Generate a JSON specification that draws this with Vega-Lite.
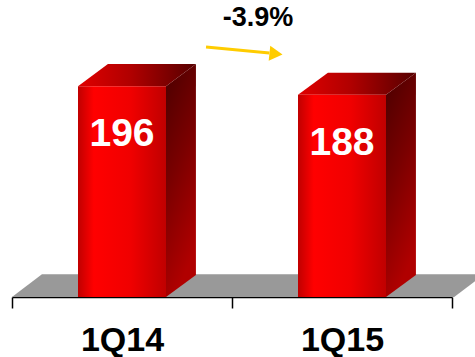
{
  "$schema": "https://vega.github.io/schema/vega-lite/v6.json",
  "autosize": "none",
  "width": 440,
  "height": 297,
  "padding": {"left": 12, "top": 0, "right": 23, "bottom": 60},
  "background": "white",
  "config": {"view": {"stroke": null}, "font": "Liberation Sans"},
  "data": {"values": [
    {"quarter": "1Q14", "value": 196},
    {"quarter": "1Q15", "value": 188}
  ]},
  "resolve": {"scale": {"x": "independent"}},
  "layer": [
    {
      "mark": {"type": "point", "opacity": 0},
      "encoding": {
        "x": {
          "field": "quarter", "type": "nominal", "sort": null,
          "scale": {"paddingInner": 0, "paddingOuter": 0},
          "axis": {
            "title": null, "orient": "bottom", "labelAngle": 0,
            "domain": true, "domainColor": "#000000", "domainWidth": 1.5,
            "ticks": true, "tickBand": "extent", "tickColor": "#000000", "tickSize": 11, "tickWidth": 1.5,
            "labelFont": "Liberation Sans", "labelFontSize": 34, "labelFontWeight": "bold",
            "labelColor": "#000000", "labelPadding": 15, "grid": false
          }
        }
      }
    },
    {
      "transform": [
        {"window": [{"op": "row_number", "as": "rn"}]},
        {"calculate": "datum.rn - 1 + 0.3", "as": "x0"},
        {"calculate": "datum.x0 + 0.4", "as": "x1"},
        {"calculate": "[0, 1]", "as": "pts"},
        {"flatten": ["pts"]},
        {"calculate": "datum.x0 + datum.pts * 0.136", "as": "tx0"},
        {"calculate": "datum.x1 + datum.pts * 0.136", "as": "tx1"},
        {"calculate": "datum.value + datum.pts * 20.5", "as": "ty"},
        {"calculate": "datum.pts * 20.5", "as": "sy0"},
        {"calculate": "datum.value + datum.pts * 20.5", "as": "sy1"},
        {"calculate": "0", "as": "zero"},
        {"calculate": "datum.x0 + 0.2", "as": "xc"}
      ],
      "layer": [
        {
          "transform": [
            {"filter": "datum.rn == 1"},
            {"calculate": "datum.pts * 0.136", "as": "fx0"},
            {"calculate": "2.01 + datum.pts * 0.136", "as": "fx1"},
            {"calculate": "datum.pts * 21.2", "as": "fy"}
          ],
          "mark": {"type": "area", "orient": "horizontal", "color": "#999999"},
          "encoding": {
            "y": {"field": "fy", "type": "quantitative", "scale": {"domain": [0, 276.1], "nice": false, "zero": true}, "axis": null},
            "x": {"field": "fx0", "type": "quantitative", "scale": {"domain": [0, 2], "nice": false, "zero": false}, "axis": null},
            "x2": {"field": "fx1"}
          }
        },
        {
          "mark": {"type": "area", "color": {"gradient": "linear", "x1": 0, "y1": 0, "x2": 0.3, "y2": 1,
            "stops": [{"offset": 0, "color": "#4a0000"}, {"offset": 0.5, "color": "#7a0000"}, {"offset": 1, "color": "#b00000"}]}},
          "encoding": {
            "x": {"field": "tx1", "type": "quantitative", "axis": null},
            "y": {"field": "sy0", "type": "quantitative", "axis": null},
            "y2": {"field": "sy1"},
            "detail": {"field": "quarter"}
          }
        },
        {
          "mark": {"type": "area", "orient": "horizontal", "color": {"gradient": "linear", "x1": 0, "y1": 0, "x2": 1, "y2": 0,
            "stops": [{"offset": 0, "color": "#e00000"}, {"offset": 0.45, "color": "#b00000"}, {"offset": 1, "color": "#550000"}]}},
          "encoding": {
            "y": {"field": "ty", "type": "quantitative", "axis": null},
            "x": {"field": "tx0", "type": "quantitative", "axis": null},
            "x2": {"field": "tx1"},
            "detail": {"field": "quarter"}
          }
        },
        {
          "transform": [{"filter": "datum.pts == 0"}],
          "mark": {"type": "rect", "color": {"gradient": "linear", "x1": 0, "y1": 0, "x2": 1, "y2": 0,
            "stops": [{"offset": 0, "color": "#c00000"}, {"offset": 0.18, "color": "#ff0000"}, {"offset": 0.6, "color": "#f00000"}, {"offset": 1, "color": "#c00000"}]}},
          "encoding": {
            "x": {"field": "x0", "type": "quantitative", "axis": null},
            "x2": {"field": "x1"},
            "y": {"field": "zero", "type": "quantitative", "axis": null},
            "y2": {"field": "value"}
          }
        },
        {
          "transform": [{"filter": "datum.pts == 0"}],
          "mark": {"type": "text", "color": "#ffffff", "font": "Liberation Sans", "fontSize": 39, "fontWeight": "bold", "align": "center", "baseline": "middle", "dy": 48},
          "encoding": {
            "x": {"field": "xc", "type": "quantitative", "axis": null},
            "y": {"field": "value", "type": "quantitative", "axis": null},
            "text": {"field": "value", "type": "quantitative"}
          }
        },
        {
          "transform": [{"filter": "datum.rn == 1 && datum.pts == 0"}],
          "mark": {"type": "rule", "color": "#FFCC00", "strokeWidth": 3},
          "encoding": {
            "x": {"datum": 0.882, "type": "quantitative"},
            "y": {"datum": 232.5, "type": "quantitative"},
            "x2": {"datum": 1.17},
            "y2": {"datum": 226.9}
          }
        },
        {
          "transform": [{"filter": "datum.rn == 1 && datum.pts == 0"}],
          "mark": {"type": "point", "shape": "triangle-right", "filled": true, "color": "#FFCC00", "opacity": 1, "size": 230, "angle": 6},
          "encoding": {
            "x": {"datum": 1.2, "type": "quantitative"},
            "y": {"datum": 226.0, "type": "quantitative"}
          }
        },
        {
          "transform": [{"filter": "datum.rn == 1 && datum.pts == 0"}],
          "mark": {"type": "text", "text": "-3.9%", "color": "#000000", "font": "Liberation Sans", "fontSize": 27, "fontWeight": "bold", "align": "center", "baseline": "middle"},
          "encoding": {
            "x": {"datum": 1.118, "type": "quantitative"},
            "y": {"datum": 259.4, "type": "quantitative"}
          }
        }
      ]
    }
  ]
}
